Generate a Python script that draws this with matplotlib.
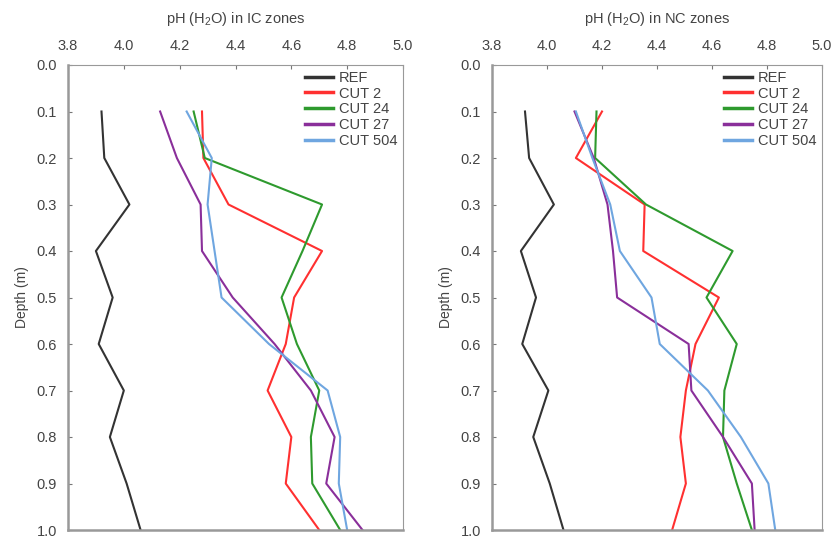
import matplotlib
matplotlib.use("Agg")
import matplotlib.pyplot as plt

depth = [0.1, 0.2, 0.3, 0.4, 0.5, 0.6, 0.7, 0.8, 0.9, 1.0]
series_names = ["REF", "CUT 2", "CUT 24", "CUT 27", "CUT 504"]

ic_ref    = [3.92, 3.93, 4.02, 3.90, 3.96, 3.91, 4.00, 3.95, 4.01, 4.06]
ic_cut2   = [4.28, 4.285, 4.375, 4.71, 4.61, 4.58, 4.515, 4.60, 4.58, 4.70]
ic_cut24  = [4.25, 4.29, 4.71, 4.64, 4.565, 4.62, 4.70, 4.67, 4.675, 4.775]
ic_cut27  = [4.13, 4.19, 4.275, 4.28, 4.39, 4.54, 4.67, 4.755, 4.725, 4.855]
ic_cut504 = [4.225, 4.315, 4.30, 4.325, 4.35, 4.52, 4.73, 4.775, 4.77, 4.80]

nc_ref    = [3.92, 3.935, 4.025, 3.905, 3.96, 3.91, 4.005, 3.95, 4.01, 4.06]
nc_cut2   = [4.20, 4.105, 4.355, 4.35, 4.625, 4.54, 4.505, 4.485, 4.505, 4.455]
nc_cut24  = [4.18, 4.175, 4.36, 4.675, 4.58, 4.69, 4.645, 4.64, 4.69, 4.745]
nc_cut27  = [4.10, 4.17, 4.22, 4.24, 4.255, 4.515, 4.525, 4.64, 4.745, 4.755]
nc_cut504 = [4.105, 4.165, 4.23, 4.265, 4.38, 4.41, 4.585, 4.705, 4.805, 4.83]

xticks = [3.8, 4.0, 4.2, 4.4, 4.6, 4.8, 5.0]
yticks = [0.0, 0.1, 0.2, 0.3, 0.4, 0.5, 0.6, 0.7, 0.8, 0.9, 1.0]
titles = ["pH (H$_2$O) in IC zones", "pH (H$_2$O) in NC zones"]

colors = ["#333333", "#ff3030", "#2e9a2e", "#8a2f9a", "#6fa6e0"]

plt.rcParams['font.family'] = ['Liberation Sans', 'DejaVu Sans']
plt.rcParams['mathtext.fontset'] = 'custom'
plt.rcParams['mathtext.rm'] = 'Liberation Sans'

fig = plt.figure(figsize=(8.37, 5.41), dpi=100)
ax1 = fig.add_axes([68/837, 1-530/541, 335/837, 465/541])
ax2 = fig.add_axes([492/837, 1-530/541, 330/837, 465/541])

panels = [
    (ax1, [ic_ref, ic_cut2, ic_cut24, ic_cut27, ic_cut504], titles[0]),
    (ax2, [nc_ref, nc_cut2, nc_cut24, nc_cut27, nc_cut504], titles[1]),
]

for ax, data, title in panels:
    for vals, name, c in zip(data, series_names, colors):
        ax.plot(vals, depth, color=c, lw=1.5, label=name)
    ax.set_xlim(3.8, 5.0)
    ax.set_ylim(1.0, 0.0)
    ax.xaxis.tick_top()
    ax.xaxis.set_label_position('top')
    ax.set_xticks(xticks)
    ax.set_xticklabels([f"{v:.1f}" for v in xticks])
    ax.set_yticks(yticks)
    ax.set_yticklabels([f"{v:.1f}" for v in yticks])
    ax.tick_params(direction='in', length=3, width=0.8, colors='#777777',
                   labelcolor='#444444', labelsize=10.5)
    ax.tick_params(axis='x', pad=9)
    ax.tick_params(axis='y', pad=8)
    ax.set_xlabel(title, fontsize=10.5, color='#444444', labelpad=11)
    ax.set_ylabel("Depth (m)", fontsize=10, color='#444444', labelpad=5)
    for side in ['top', 'right']:
        ax.spines[side].set_color('#999999')
        ax.spines[side].set_linewidth(0.8)
    for side in ['left', 'bottom']:
        ax.spines[side].set_color('#999999')
        ax.spines[side].set_linewidth(1.8)
    leg = ax.legend(loc='upper right', frameon=False, fontsize=10.5,
                    handlelength=1.9, handletextpad=0.4, labelspacing=0.12,
                    borderaxespad=0.0)
    for t in leg.get_texts():
        t.set_color('#444444')
    for l in leg.get_lines():
        l.set_linewidth(2.5)

fig.savefig("out.png", dpi=100)
